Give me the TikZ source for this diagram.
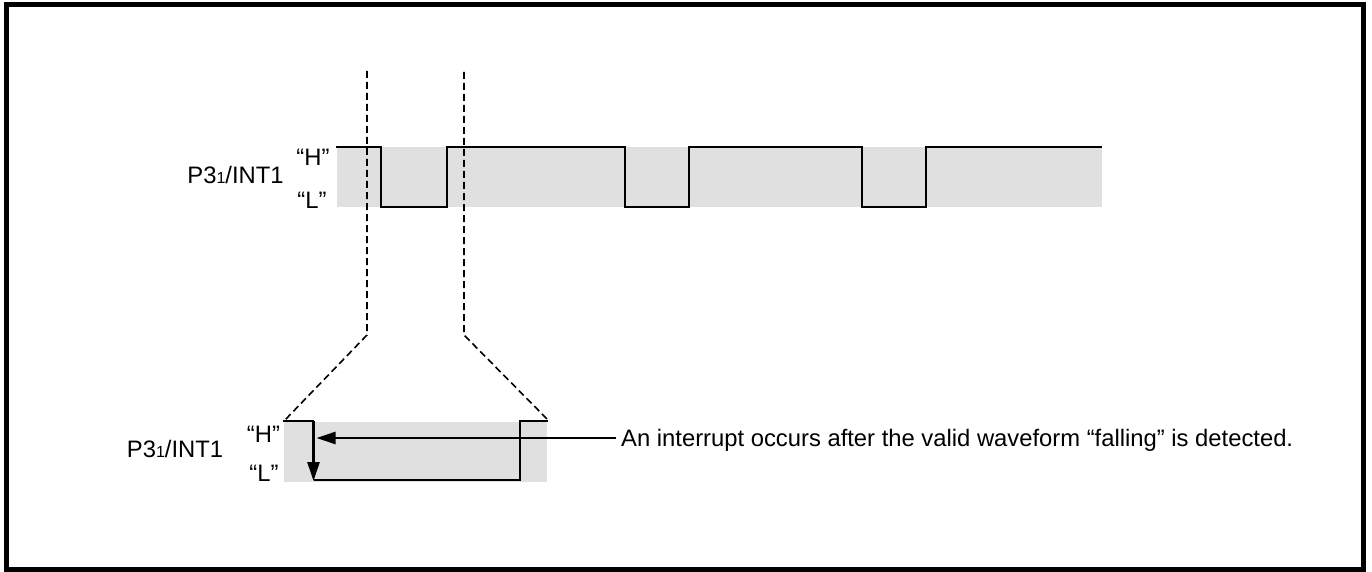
\documentclass[tikz,border=0pt]{standalone}
\usepackage{fontspec}
\setmainfont{Liberation Sans}
\usetikzlibrary{arrows.meta}
\begin{document}
\begin{tikzpicture}[x=1pt,y=-1pt,
  wave/.style={line width=2.5pt, line join=miter},
  band/.style={fill=black!12, draw=none},
  guide/.style={line width=1.6pt, dash pattern=on 7pt off 4pt},
  lbl/.style={font=\fontsize{23.8}{28}\selectfont, inner sep=0pt, anchor=base},
  ptr/.style={line width=2.5pt, -{Triangle[length=19pt,width=12pt]}},
  frame/.style={line width=5pt}]
\useasboundingbox (0,0) rectangle (1372,572);
\draw[frame] (6.5,4.5) rectangle (1363,569.5);
% upper band and waveform
\fill[band] (337,147) rectangle (1102,207);
\draw[wave] (336,147) -- (381,147) -- (381,207) -- (447,207) -- (447,147)
  -- (625,147) -- (625,207) -- (689,207) -- (689,147)
  -- (862,147) -- (862,207) -- (926,207) -- (926,147) -- (1102,147);
\node[lbl] (p1) at (235.5,184) {P3{\fontsize{16}{18}\selectfont 1}/INT1};
\node[lbl] (h1) at (313,166) {“H”};
\node[lbl] (l1) at (312,208) {“L”};
% zoom guides
\coordinate (ga) at (367,71);
\coordinate (gb) at (367,335);
\coordinate (gc) at (285,420);
\coordinate (gd) at (464,72);
\coordinate (ge) at (464,335);
\coordinate (gf) at (548,420);
\draw[guide] (ga) -- (gb) -- (gc);
\draw[guide] (gd) -- (ge) -- (gf);
% lower band and waveform
\fill[band] (284,422) rectangle (547,482);
\coordinate (w0) at (283,421);
\coordinate (w1) at (313.5,421);
\coordinate (w2) at (313.5,481);
\draw[wave] (w0) -- (w1);
\draw[ptr] (w1) -- (w2);
\draw[wave] (313.5,480) -- (520,480) -- (520,421) -- (548,421);
\node[lbl] (p2) at (175,457) {P3{\fontsize{16}{18}\selectfont 1}/INT1};
\node[lbl] (h2) at (263.5,442) {“H”};
\node[lbl] (l2) at (264,481) {“L”};
% annotation
\node[lbl, anchor=base west] (note) at (621,446) {An interrupt occurs after the valid waveform “falling” is detected.};
\coordinate (tip) at (316.5,438);
\draw[ptr] (note.west |- 0,438) ++(-5,0) -- (tip);
\end{tikzpicture}
\end{document}
